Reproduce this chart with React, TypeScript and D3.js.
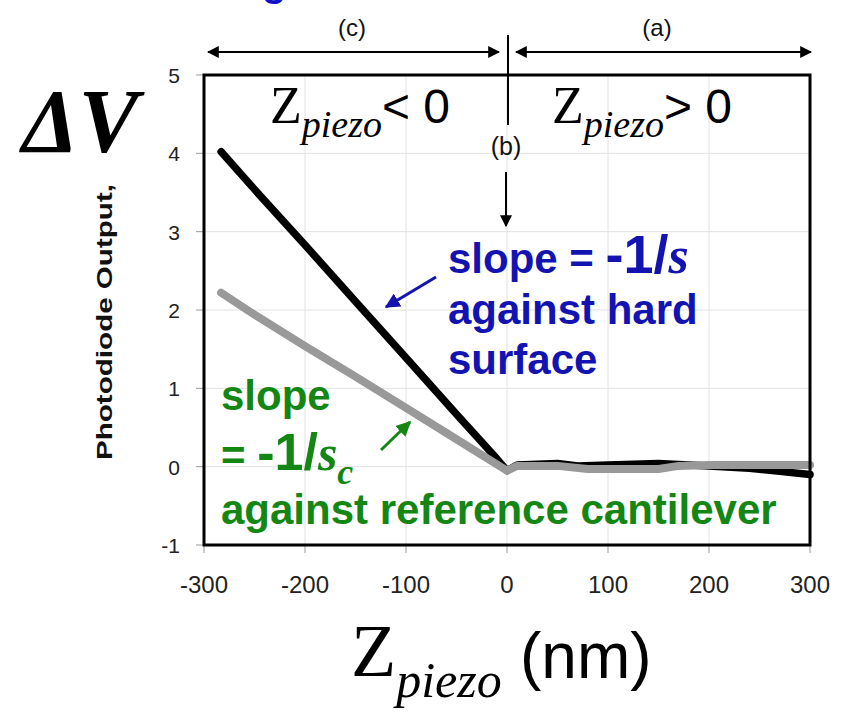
import React from "react";
import * as d3 from "d3";

const W = 846;
const H = 714;

const xTicks = [-300, -200, -100, 0, 100, 200, 300];
const yTicks = [-1, 0, 1, 2, 3, 4, 5];

// hard surface (black)
const hardX = [-283, -250, -200, -150, -100, -50, -10, 0, 10, 50, 70, 100, 150, 200, 240, 270, 300];
const hardY = [4.02, 3.54, 2.83, 2.11, 1.39, 0.67, 0.1, -0.05, 0.02, 0.04, 0.01, 0.02, 0.04, 0.01, -0.02, -0.06, -0.1];

// reference cantilever (gray)
const refX = [-283, -250, -200, -150, -100, -50, -10, 0, 10, 50, 80, 150, 170, 200, 300];
const refY = [2.22, 1.94, 1.54, 1.15, 0.75, 0.35, 0.03, -0.05, 0.01, 0.01, -0.03, -0.03, 0.01, 0.02, 0.02];

const L = 204, R = 810, T = 75, B = 545;

export default function App() {
  const x = d3.scaleLinear().domain([-300, 300]).range([L, R]);
  const y = d3.scaleLinear().domain([-1, 5]).range([B, T]);
  const line = d3.line<[number, number]>().x(d => x(d[0])).y(d => y(d[1]));
  const hard = hardX.map((v, i) => [v, hardY[i]] as [number, number]);
  const ref = refX.map((v, i) => [v, refY[i]] as [number, number]);

  const arial = "Liberation Sans, Arial, sans-serif";
  const times = "Liberation Serif, Times New Roman, serif";
  const blue = "#1313b2";
  const green = "#148614";
  const x0 = x(0);

  return (
    <svg width={W} height={H} style={{ position: "absolute", left: 0, top: 0, background: "#fff" }}>
      <defs>
        <marker id="ah" viewBox="0 0 10 10" refX="9" refY="5" markerWidth="6" markerHeight="6" orient="auto-start-reverse" markerUnits="strokeWidth">
          <path d="M0,0 L10,5 L0,10 z" fill="#000" />
        </marker>
        <marker id="ahb" viewBox="0 0 10 10" refX="9" refY="5" markerWidth="5" markerHeight="5" orient="auto" markerUnits="strokeWidth">
          <path d="M0,0 L10,5 L0,10 z" fill={blue} />
        </marker>
        <marker id="ahg" viewBox="0 0 10 10" refX="9" refY="5" markerWidth="5" markerHeight="5" orient="auto" markerUnits="strokeWidth">
          <path d="M0,0 L10,5 L0,10 z" fill={green} />
        </marker>
      </defs>
      <rect width={W} height={H} fill="#fff" />
      {/* cut-off title fragment */}
      <text x={262} y={-4} fontFamily={arial} fontWeight="bold" fontSize={40} fill="#1010c8">g</text>

      {/* grid */}
      {xTicks.map(t => (
        <line key={"gx" + t} x1={x(t)} x2={x(t)} y1={T} y2={B} stroke="#e2e2e2" strokeWidth={1} />
      ))}
      {yTicks.map(t => (
        <line key={"gy" + t} x1={L} x2={R} y1={y(t)} y2={y(t)} stroke="#e2e2e2" strokeWidth={1} />
      ))}
      {/* ticks */}
      {xTicks.map(t => (
        <line key={"tx" + t} x1={x(t)} x2={x(t)} y1={B} y2={B + 8} stroke="#999" strokeWidth={1} />
      ))}
      {yTicks.map(t => (
        <line key={"ty" + t} x1={L - 8} x2={L} y1={y(t)} y2={y(t)} stroke="#999" strokeWidth={1} />
      ))}
      {xTicks.map(t => (
        <text key={"lx" + t} x={x(t)} y={B + 48} textAnchor="middle" fontFamily={arial} fontSize={24} fill="#222">{t}</text>
      ))}
      {yTicks.map(t => (
        <text key={"ly" + t} x={L - 24} y={y(t) + 8} textAnchor="end" fontFamily={arial} fontSize={21} fill="#222">{t}</text>
      ))}

      {/* data */}
      <path d={line(hard) || ""} fill="none" stroke="#000" strokeWidth={7.5} strokeLinejoin="round" strokeLinecap="round" />
      <path d={line(ref) || ""} fill="none" stroke="#999" strokeWidth={8} strokeLinejoin="round" strokeLinecap="round" />

      {/* frame */}
      <rect x={L} y={T} width={R - L} height={B - T} fill="none" stroke="#000" strokeWidth={3} />

      {/* region arrows */}
      <line x1={L + 4} x2={x0 - 8} y1={52} y2={52} stroke="#000" strokeWidth={2} markerStart="url(#ah)" markerEnd="url(#ah)" />
      <line x1={x0 + 9} x2={R + 1} y1={52} y2={52} stroke="#000" strokeWidth={2} markerStart="url(#ah)" markerEnd="url(#ah)" />
      <line x1={x0 + 1} x2={x0 + 1} y1={35} y2={125} stroke="#000" strokeWidth={2} />
      <text x={352} y={36} textAnchor="middle" fontFamily={arial} fontSize={24} fill="#111">(c)</text>
      <text x={657} y={36} textAnchor="middle" fontFamily={arial} fontSize={24} fill="#111">(a)</text>
      <text x={x0 - 1} y={155} textAnchor="middle" fontFamily={arial} fontSize={25} fill="#111">(b)</text>
      <line x1={x0 - 1} x2={x0 - 1} y1={172} y2={226} stroke="#000" strokeWidth={2} markerEnd="url(#ah)" />

      {/* region labels */}
      <text x={270} y={123} fill="#000">
        <tspan fontFamily={times} fontSize={52}>Z</tspan>
        <tspan fontFamily={times} fontStyle="italic" fontSize={38} dy={14}>piezo</tspan>
        <tspan fontFamily={arial} fontSize={48} dy={-14}>{"< 0"}</tspan>
      </text>
      <text x={552} y={123} fill="#000">
        <tspan fontFamily={times} fontSize={52}>Z</tspan>
        <tspan fontFamily={times} fontStyle="italic" fontSize={38} dy={14}>piezo</tspan>
        <tspan fontFamily={arial} fontSize={48} dy={-14}>{"> 0"}</tspan>
      </text>

      {/* y label */}
      <text x={22} y={152} fontFamily={times} fontWeight="bold" fontStyle="italic" fontSize={90} fill="#000">ΔV</text>
      <text transform={`translate(112,${(184 + 460) / 2}) rotate(-90)`} textAnchor="middle" fontFamily={arial} fontWeight="bold" fontSize={22} fill="#111" textLength={276} lengthAdjust="spacingAndGlyphs">Photodiode Output,</text>

      {/* x label */}
      <text x={351} y={676} fill="#000">
        <tspan fontFamily={times} fontSize={74}>Z</tspan>
        <tspan fontFamily={times} fontStyle="italic" fontSize={50} dy={21}>piezo</tspan>
      </text>
      <text x={520} y={678} fontFamily={arial} fontSize={64} fill="#000">(nm)</text>

      {/* blue annotation */}
      <line x1={436} x2={386} y1={277} y2={307} stroke={blue} strokeWidth={3} markerEnd="url(#ahb)" />
      <text x={448} y={273} fontFamily={arial} fontWeight="bold" fontSize={42} fill={blue}>
        <tspan>{"slope = "}</tspan>
        <tspan fontSize={54}>-1/</tspan>
        <tspan fontFamily={times} fontStyle="italic" fontSize={52}>s</tspan>
      </text>
      <text x={448} y={324} fontFamily={arial} fontWeight="bold" fontSize={42} fill={blue}>against hard</text>
      <text x={448} y={374} fontFamily={arial} fontWeight="bold" fontSize={42} fill={blue}>surface</text>

      {/* green annotation */}
      <line x1={381} x2={410} y1={450} y2={422} stroke={green} strokeWidth={3} markerEnd="url(#ahg)" />
      <text x={221} y={410} fontFamily={arial} fontWeight="bold" fontSize={42} fill={green}>slope</text>
      <text x={221} y={470} fontFamily={arial} fontWeight="bold" fontSize={42} fill={green}>
        <tspan>{"= "}</tspan>
        <tspan fontSize={52}>-1/</tspan>
        <tspan fontFamily={times} fontStyle="italic" fontSize={50}>s</tspan>
        <tspan fontFamily={times} fontStyle="italic" fontSize={36} dy={14}>c</tspan>
      </text>
      <text x={221} y={524} fontFamily={arial} fontWeight="bold" fontSize={42} fill={green}>against reference cantilever</text>
    </svg>
  );
}
